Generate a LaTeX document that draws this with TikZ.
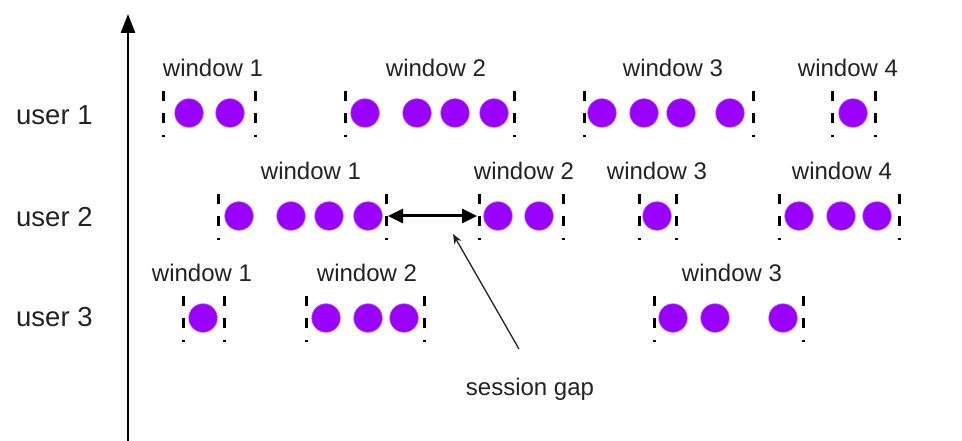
\documentclass[tikz,border=0pt]{standalone}
\usepackage{fontspec}
\setmainfont{Liberation Sans}
\usetikzlibrary{arrows.meta, positioning}
\definecolor{evtviolet}{RGB}{153,0,255}
\definecolor{inkgray}{RGB}{34,34,34}
\tikzset{
    evt/.style={circle, fill=evtviolet, draw=evtviolet!70!white, line width=0.6pt, minimum size=28.5pt, inner sep=0pt},
    winlabel/.style={font=\fontsize{24}{28}\selectfont, text=inkgray, inner sep=0pt},
    userlabel/.style={font=\fontsize{27.5}{31}\selectfont, text=inkgray, inner sep=0pt, anchor=west},
    bound/.style={line width=3pt, black, dash pattern=on 10pt off 12pt},
    axis/.style={line width=2.6pt, black, -{Triangle[length=19pt, width=14pt]}},
    gaparrow/.style={line width=3pt, black, {Triangle[length=15pt, width=14pt]}-{Triangle[length=15pt, width=14pt]}, shorten <=2pt, shorten >=2pt},
    pointer/.style={line width=1.3pt, inkgray, -{Stealth[length=10pt, width=8pt]}},
}
\begin{document}
\begin{tikzpicture}[x=1pt, y=-1pt]
\useasboundingbox (0,0) rectangle (962,441);

% Time axis
\coordinate (axbot) at (128,441);
\coordinate (axtop) at (128,14);
\draw[axis] (axbot) -- (axtop);

% Users
\node[userlabel] (user1) at (16,115) {user 1};
\node[userlabel] (user2) at (16,217) {user 2};
\node[userlabel] (user3) at (16,317) {user 3};

% Events
\foreach \r/\yc/\xs in {1/113/{189,230,365,417,455,494,602,644,681,730,853},
                        2/216/{239,291,329,368,498,539,657,799,841,877},
                        3/318/{203,326,368,404,673,715,783}}
  \foreach \x [count=\i] in \xs
    \node[evt] (ev\r-\i) at (\x,\yc) {};

% Session windows
\foreach \n/\yc/\xl/\xr/\xt/\k in {u1w1/113/163/255/213/1, u1w2/113/345/514/436/2,
                                   u1w3/113/584/753/673/3, u1w4/113/832/875/848/4,
                                   u2w1/216/218/386/311/1, u2w2/216/479/563/524/2,
                                   u2w3/216/639/676/657/3, u2w4/216/779/899/842/4,
                                   u3w1/318/183/224/202/1, u3w2/318/306/424/367/2,
                                   u3w3/318/654/803/732/3}{
  \coordinate (\n-l) at (\xl,\yc);
  \coordinate (\n-r) at (\xr,\yc);
  \draw[bound] ([yshift=22pt]\n-l) -- ([yshift=-24pt]\n-l);
  \draw[bound] ([yshift=22pt]\n-r) -- ([yshift=-24pt]\n-r);
  \node[winlabel] (\n-lab) at (\xt,\yc-45) {window \k};
}

% Session gap
\draw[gaparrow] (u2w1-r) -- (u2w2-l);
\node[winlabel] (gaptext) at (530,389) {session gap};
\coordinate (gaptail) at (519,349);
\coordinate (gaptip) at (453,234);
\draw[pointer] (gaptail) -- (gaptip);
\end{tikzpicture}
\end{document}
